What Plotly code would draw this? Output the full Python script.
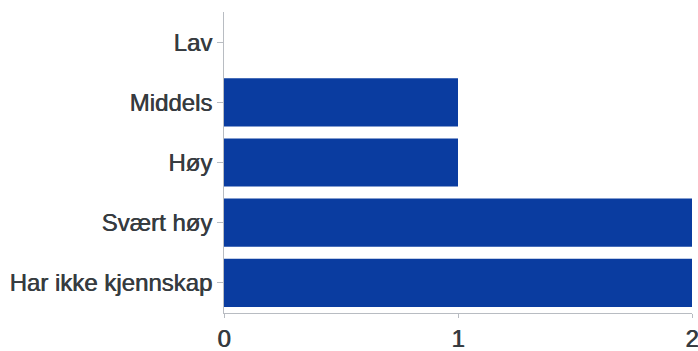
import plotly.graph_objects as go

# Response categories (top to bottom) and their counts
categories = ["Lav", "Middels", "Høy", "Svært høy", "Har ikke kjennskap"]
counts = [0, 1, 1, 2, 2]
x_ticks = [0, 1, 2]

text_color = "#363b40"

fig = go.Figure(
    go.Bar(
        x=counts,
        y=categories,
        orientation="h",
        marker=dict(color="#0a3ca0", line=dict(width=0)),
    )
)

fig.update_layout(
    width=698,
    height=351,
    margin=dict(l=224, r=6, t=12, b=38),
    paper_bgcolor="white",
    plot_bgcolor="white",
    bargap=0.2,
    showlegend=False,
    font=dict(
        family="Liberation Sans, Arial, sans-serif",
        size=24,
        color=text_color,
        shadow=f"0.6px 0 0 {text_color}",
    ),
)

fig.update_yaxes(
    categoryorder="array",
    categoryarray=categories[::-1],
    showline=True,
    linecolor="#b8bcc2",
    linewidth=1,
    ticks="outside",
    ticklen=6,
    tickcolor="#b8bcc2",
    showgrid=False,
    zeroline=False,
    automargin=False,
)

fig.update_xaxes(
    range=[0, 2],
    tickvals=x_ticks,
    ticktext=[str(v) for v in x_ticks],
    showline=True,
    linecolor="#b8bcc2",
    linewidth=1,
    ticks="outside",
    ticklen=4,
    tickcolor="#b8bcc2",
    showgrid=False,
    zeroline=False,
    automargin=False,
    ticklabeloverflow="allow",
)

fig.write_html("out.html")
